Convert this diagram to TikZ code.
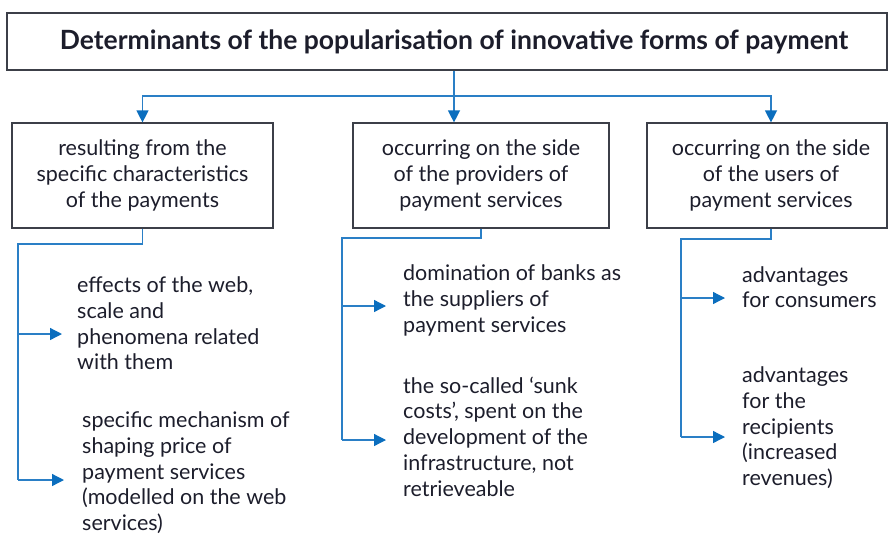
\documentclass[tikz,border=0pt]{standalone}
\usepackage{fontspec}
\setmainfont{Lato}
\usepackage{tikz}
\usetikzlibrary{arrows.meta, positioning, calc}
\usepackage{xcolor}
\definecolor{link-blue}{HTML}{2A7FC6}
\definecolor{tip-blue}{HTML}{0B6EBE}
\definecolor{frame-grey}{HTML}{3C3F48}
\definecolor{ink}{HTML}{1C1D2B}

\tikzset{
	box/.style={draw=frame-grey, line width=1.2pt, align=center, inner sep=0pt, text=ink,
		font=\fontsize{21.5}{25.8}\selectfont},
	item/.style={anchor=north west, align=left, inner sep=0pt, text=ink,
		font=\fontsize{21.5}{25.8}\selectfont},
	link/.style={draw=link-blue, line width=1.3pt},
	arr/.style={link, -{Triangle[length=12pt, width=12pt, fill=tip-blue, color=tip-blue]}},
}

\begin{document}
\begin{tikzpicture}[x=1pt, y=-1pt]
	\useasboundingbox (0,0) rectangle (888,533);
	\node[box, minimum width=880, minimum height=57, font=\fontsize{26.5}{30}\selectfont\bfseries]
		(title) at (447,41.5) {\hspace*{14pt}Determinants of the popularisation of innovative forms of payment};
	\node[box, minimum width=261, minimum height=105] (b1) at (142.5,175.5)
		{resulting from the\\specific characteristics\\of the payments};
	\node[box, minimum width=256, minimum height=105] (b2) at (481,175.5)
		{occurring on the side\\of the providers of\\payment services};
	\node[box, minimum width=240, minimum height=105] (b3) at (767,175.5)
		{\hspace*{8pt}occurring on the side\\\hspace*{8pt}of the users of\\\hspace*{8pt}payment services};

	% factors listed under each group
	\node[item] (i11) at (77,276.5) {effects of the web,\\scale and\\phenomena related\\with them};
	\node[item] (i12) at (82,411.5) {specific mechanism of\\shaping price of\\payment services\\(modelled on the web\\services)};
	\node[item] (i21) at (403,264.5) {domination of banks as\\the suppliers of\\payment services};
	\node[item] (i22) at (403,376.5) {the so-called ‘sunk\\costs’, spent on the\\development of the\\infrastructure, not\\retrieveable};
	\node[item] (i31) at (742,266) {advantages\\for consumers};
	\node[item] (i32) at (742,366.5) {advantages\\for the\\recipients\\(increased\\revenues)};

	% turning points of the connectors
	\coordinate (fork) at (454,96);
	\coordinate (s1) at (18,244);
	\coordinate (s2) at (342,238);
	\coordinate (s3) at (681,239);
	\coordinate (a11) at (62,334);
	\coordinate (a12) at (64,480);
	\coordinate (a21) at (386,306);
	\coordinate (a22) at (386,440);
	\coordinate (a31) at (725,298);
	\coordinate (a32) at (725,437);

	\draw[link] (title.south -| fork) -- (fork);
	\draw[arr] (fork) -| (b1.north);
	\draw[arr] (fork) -- (fork |- b2.north);
	\draw[arr] (fork) -- (fork -| 771,0) -- (771,0 |- b3.north);

	\draw[link] (b1.south) |- (s1) -- (s1 |- a12);
	\draw[arr] (s1 |- a11) -- (a11);
	\draw[arr] (s1 |- a12) -- (a12);

	\draw[link] (b3.south -| 771,0) |- (s3) -- (s3 |- a32);
	\draw[arr] (s3 |- a31) -- (a31);
	\draw[arr] (s3 |- a32) -- (a32);

	\draw[link] (b2.south) |- (s2) -- (s2 |- a22);
	\draw[arr] (s2 |- a21) -- (a21);
	\draw[arr] (s2 |- a22) -- (a22);
\end{tikzpicture}
\end{document}
